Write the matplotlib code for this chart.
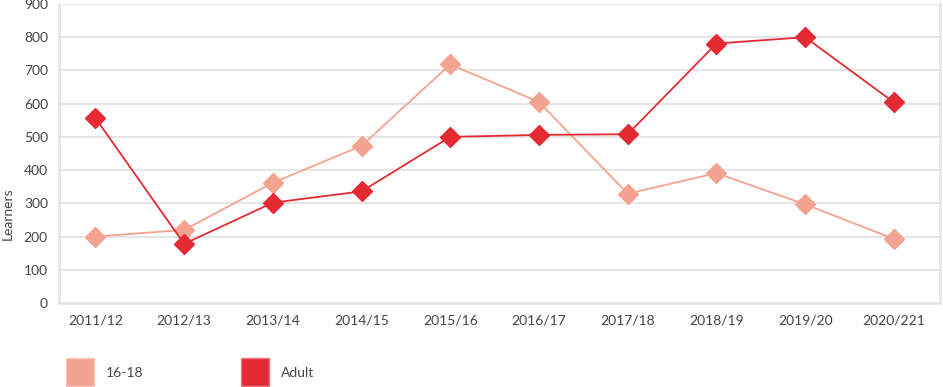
import matplotlib
matplotlib.use('Agg')
from matplotlib import pyplot as plt
from matplotlib.lines import Line2D

# learners per academic year
years = ['2011/12', '2012/13', '2013/14', '2014/15', '2015/16',
         '2016/17', '2017/18', '2018/19', '2019/20', '2020/221']
young = [200, 220, 362, 473, 718, 605, 329, 391, 297, 193]
adult = [557, 178, 302, 336, 500, 506, 508, 781, 800, 604]
yticks = [0, 100, 200, 300, 400, 500, 600, 700, 800, 900]

c_young = '#f4a391'
c_adult = '#e42a33'
txt = '#444444'
grid = '#e6e6e6'

plt.rcParams['font.family'] = ['Lato', 'DejaVu Sans']

fig = plt.figure(figsize=(9.43, 3.87), dpi=100)
ax = fig.add_axes([0.0626, 0.217, 0.9342, 0.7727])

x = list(range(len(years)))
ax.plot(x, young, color=c_young, lw=1.3, marker='D', ms=10.5, zorder=3)
ax.plot(x, adult, color=c_adult, lw=1.3, marker='D', ms=10.5, zorder=4)

ax.set_ylim(0, 900)
ax.set_xlim(-0.41, 9.52)
ax.set_yticks(yticks)
ax.set_xticks(x)
ax.set_xticklabels(years)
ax.tick_params(length=0, labelsize=10, colors=txt, pad=8)
ax.grid(axis='y', color=grid, lw=1.5, zorder=0)
ax.set_axisbelow(True)
for s in ['left', 'bottom', 'right']:
    ax.spines[s].set_color(grid)
    ax.spines[s].set_linewidth(2)
ax.spines['top'].set_visible(False)

ax.set_ylabel('Learners', fontsize=10, color=txt)
ax.yaxis.set_label_coords(-0.051, 0.30)

handles = [Line2D([], [], ls='', marker='s', ms=20, color=c_young, markeredgecolor='#f8c6ba', markeredgewidth=1),
           Line2D([], [], ls='', marker='s', ms=20, color=c_adult, markeredgecolor='#ef7d82', markeredgewidth=1)]
fig.legend(handles, ['16-18', 'Adult'], loc='center left', bbox_to_anchor=(0.07, 0.036),
           ncol=2, frameon=False, fontsize=10, labelcolor=txt, handlelength=2,
           handletextpad=0.9, columnspacing=7, borderpad=0, borderaxespad=0)

plt.savefig('out.png', dpi=100)
